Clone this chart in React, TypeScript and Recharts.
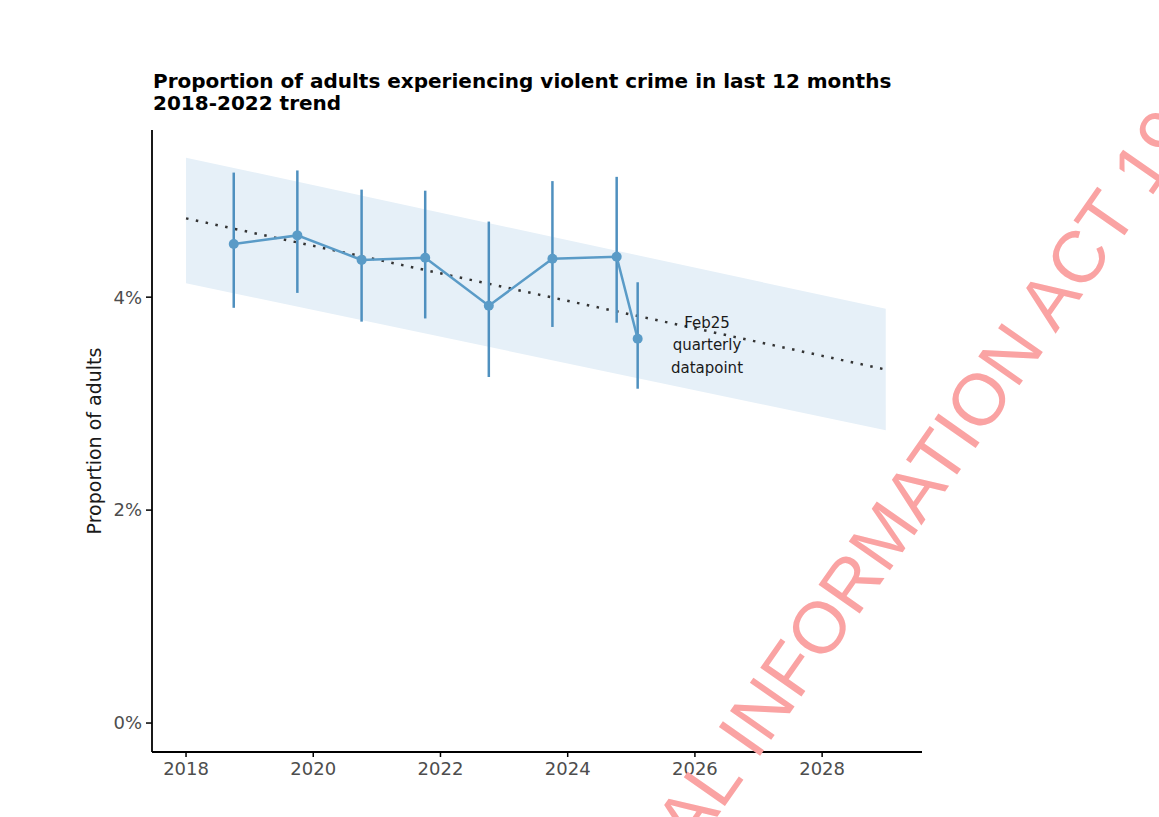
import {
  ComposedChart,
  Area,
  Line,
  ErrorBar,
  XAxis,
  YAxis,
  ReferenceDot,
} from 'recharts';

// survey waves (decimal year) and estimates, in %
const obsYears = [2018.75, 2019.75, 2020.76, 2021.76, 2022.76, 2023.76, 2024.77, 2025.1];
const obsValues = [4.5, 4.58, 4.35, 4.37, 3.92, 4.36, 4.38, 3.61];
const obsLow = [3.9, 4.04, 3.77, 3.8, 3.25, 3.72, 3.76, 3.14];
const obsHigh = [5.17, 5.19, 5.01, 5.0, 4.71, 5.09, 5.13, 4.14];

// 2018-2022 trend projection and its band
const trendYears = [2018, 2029];
const trendValues = [4.74, 3.32];
const bandLow = [4.13, 2.75];
const bandHigh = [5.31, 3.89];

const xTicks = [2018, 2020, 2022, 2024, 2026, 2028];
const yTicks = [0, 2, 4];

const blue = '#5a9bc7';
const barBlue = '#4f90bf';
const font = '"DejaVu Sans", sans-serif';

const obsData = obsYears.map((x, i) => ({
  x,
  y: obsValues[i],
  err: [obsValues[i] - obsLow[i], obsHigh[i] - obsValues[i]],
}));
const trendData = trendYears.map((x, i) => ({
  x,
  trend: trendValues[i],
  band: [bandLow[i], bandHigh[i]],
}));

const AnnotationShape = (props: any) => {
  const { cx, cy } = props;
  const lines = ['Feb25', 'quarterly', 'datapoint'];
  return (
    <g>
      {lines.map((t, i) => (
        <text
          key={t}
          x={cx}
          y={cy + (i - 1) * 22.5}
          textAnchor="middle"
          dominantBaseline="central"
          fontFamily={font}
          fontSize={15}
          fill="#1a1a1a"
        >
          {t}
        </text>
      ))}
    </g>
  );
};

const YLabel = (props: any) => {
  const vb = props.viewBox || { x: 92, y: 130, height: 622 };
  const x = vb.x + 2;
  const y = vb.y + vb.height / 2;
  return (
    <text
      x={x}
      y={y}
      transform={`rotate(-90, ${x}, ${y})`}
      textAnchor="middle"
      dominantBaseline="central"
      fontFamily={font}
      fontSize={19}
      fill="#1a1a1a"
    >
      Proportion of adults
    </text>
  );
};

export default function App() {
  return (
    <div style={{ position: 'absolute', left: 0, top: 0, width: 1159, height: 817, overflow: 'hidden', background: '#fff' }}>
      <div
        style={{
          position: 'absolute',
          left: 153,
          top: 70,
          fontFamily: font,
          fontWeight: 700,
          fontSize: 20,
          lineHeight: '22px',
          color: '#000',
        }}
      >
        Proportion of adults experiencing violent crime in last 12 months
        <br />
        2018-2022 trend
      </div>

      <ComposedChart
        width={1159}
        height={817}
        margin={{ top: 130, right: 237, bottom: 35, left: 92 }}
        style={{ position: 'absolute', left: 0, top: 0 }}
      >
        <XAxis
          type="number"
          dataKey="x"
          domain={[2017.465, 2029.57]}
          ticks={xTicks}
          allowDataOverflow
          height={30}
          tickSize={5}
          tickMargin={5}
          axisLine={{ stroke: '#000', strokeWidth: 1.8 }}
          tickLine={{ stroke: '#000', strokeWidth: 1.5 }}
          tick={{ fill: '#4d4d4d', fontSize: 18, fontFamily: font }}
        />
        <YAxis
          type="number"
          domain={[-0.272, 5.57]}
          ticks={yTicks}
          allowDataOverflow
          width={60}
          tickSize={6}
          tickMargin={4}
          tickFormatter={(v: number) => `${v}%`}
          axisLine={{ stroke: '#000', strokeWidth: 1.8 }}
          tickLine={{ stroke: '#000', strokeWidth: 1.5 }}
          tick={{ fill: '#4d4d4d', fontSize: 18, fontFamily: font }}
          label={{ content: YLabel } as any}
        />
        <Area
          data={trendData}
          dataKey="band"
          type="linear"
          stroke="none"
          fill="#e6f0f8"
          fillOpacity={1}
          isAnimationActive={false}
        />
        <Line
          data={trendData}
          dataKey="trend"
          type="linear"
          stroke="#333"
          strokeWidth={2.5}
          strokeDasharray="2.5 7.5"
          dot={false}
          activeDot={false}
          isAnimationActive={false}
        />
        <Line
          data={obsData}
          dataKey="y"
          type="linear"
          stroke={blue}
          strokeWidth={2.5}
          dot={{ r: 5, fill: blue, stroke: blue, strokeWidth: 0 }}
          activeDot={false}
          isAnimationActive={false}
        >
          <ErrorBar dataKey="err" direction="y" width={0} stroke={barBlue} strokeWidth={2.5} />
        </Line>
        <ReferenceDot x={2026.19} y={3.55} r={0} shape={AnnotationShape} ifOverflow="visible" />
      </ComposedChart>

      <svg width={1159} height={817} style={{ position: 'absolute', left: 0, top: 0, pointerEvents: 'none' }}>
        <g transform="translate(756.2, 761.3) rotate(-55)" fontFamily='"Liberation Sans", Arial, sans-serif' fontSize={73} fill="#faa3a3">
          <text x={0} y={0} textAnchor="start">INFORMATION ACT 1982</text>
          <text x={-20} y={0} textAnchor="end">RELEASED UNDER THE OFFICIAL</text>
        </g>
      </svg>
    </div>
  );
}
